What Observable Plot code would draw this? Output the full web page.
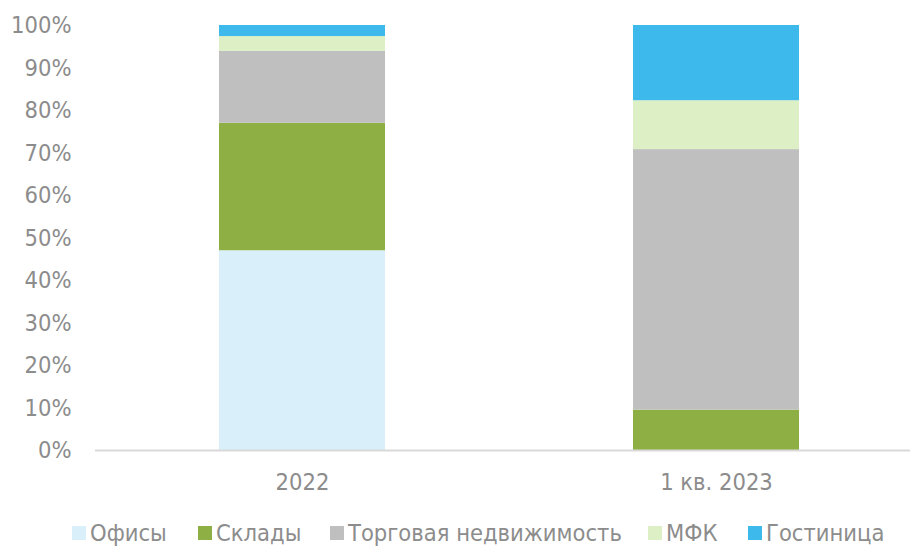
<!DOCTYPE html>
<html>
<head>
<meta charset="utf-8">
<script src="https://cdn.jsdelivr.net/npm/d3@7"></script>
<script src="https://cdn.jsdelivr.net/npm/@observablehq/plot@0.6"></script>
<style>
  html, body { margin: 0; padding: 0; background: #fff; }
  body { width: 910px; height: 546px; overflow: hidden; font-family: "DejaVu Sans Condensed", "DejaVu Sans", sans-serif; }
  #legend { position: relative; height: 41px; color: #8c8c8c; font-size: 23.5px; }
  #legend .item { position: absolute; top: 14px; display: flex; align-items: center; height: 28px; white-space: nowrap; }
  #legend .sw { width: 14px; height: 14px; margin-right: 4px; }
</style>
</head>
<body>
<div id="chart"></div>
<div id="legend"></div>
<script>
const periods = ["2022", "1 кв. 2023"];
const segments = ["Офисы", "Склады", "Торговая недвижимость", "МФК", "Гостиница"];
const colors = ["#d9eff9", "#8daf43", "#bfbfbf", "#dcefc5", "#3db9eb"];
const values2022 = [47.0, 30.0, 16.9, 3.5, 2.6];
const values2023 = [0, 9.5, 61.3, 11.5, 17.7];
const yTicks = [0, 10, 20, 30, 40, 50, 60, 70, 80, 90, 100];

const rows = [];
[values2022, values2023].forEach((vals, i) => {
  vals.forEach((v, j) => rows.push({period: periods[i], segment: segments[j], value: v}));
});

const textColor = "#8c8c8c";
const chart = Plot.plot({
  width: 910,
  height: 505,
  marginTop: 25,
  marginBottom: 55,
  marginLeft: 95,
  marginRight: 0,
  style: {fontFamily: '"DejaVu Sans Condensed", "DejaVu Sans", sans-serif', fontSize: "23.5px", color: textColor, background: "#fff"},
  x: {domain: periods, range: [95, 923], paddingInner: 0.6, paddingOuter: 0.3, label: null, tickSize: 0, tickPadding: 23},
  y: {domain: [0, 100], ticks: yTicks, tickFormat: d => d + "%", label: null, tickSize: 0, tickPadding: 24},
  color: {domain: segments, range: colors},
  marks: [
    Plot.barY(rows, Plot.stackY({order: segments, x: "period", y: "value", fill: "segment"})),
    Plot.ruleY([0], {stroke: "#d9d9d9", strokeWidth: 2})
  ]
});
document.getElementById("chart").appendChild(chart);

const legend = document.getElementById("legend");
const lefts = [72, 198, 330, 648, 748];
segments.forEach((s, i) => {
  const item = document.createElement("div");
  item.className = "item";
  item.style.left = lefts[i] + "px";
  const sw = document.createElement("div");
  sw.className = "sw";
  sw.style.background = colors[i];
  const t = document.createElement("span");
  t.textContent = s;
  item.appendChild(sw);
  item.appendChild(t);
  legend.appendChild(item);
});
</script>
</body>
</html>
